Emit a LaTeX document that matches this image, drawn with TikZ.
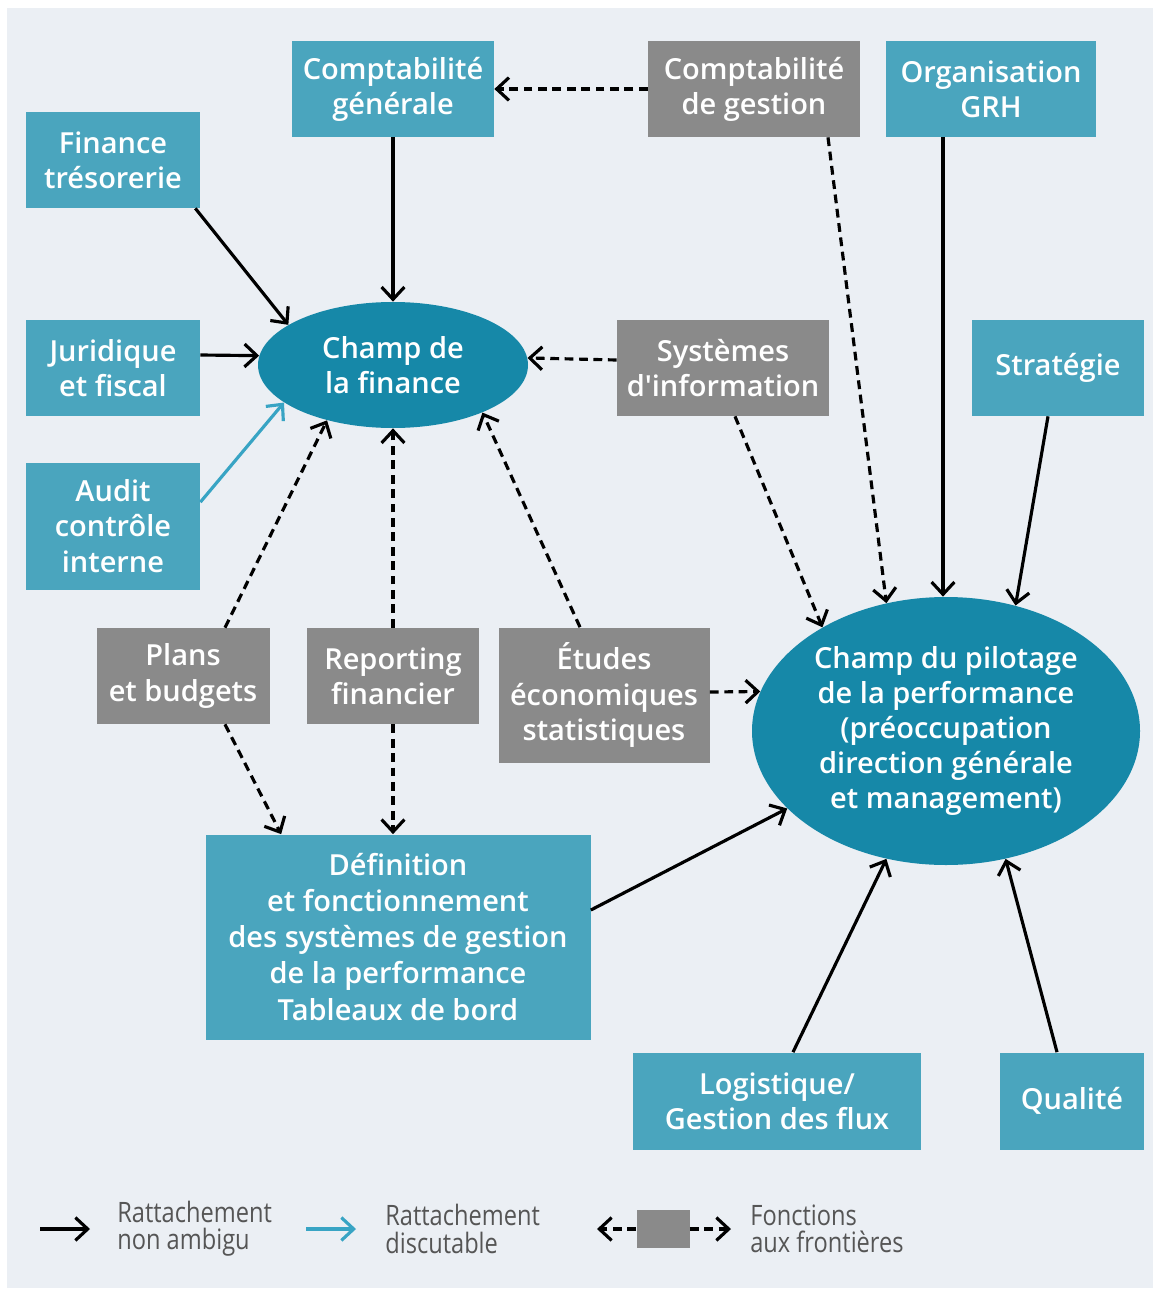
\documentclass[tikz,border=0pt]{standalone}
\usepackage{fontspec}
\usetikzlibrary{arrows.meta,shapes.geometric,calc}
\setmainfont{Open Sans}
\IfFontExistsTF{Open Sans SemiBold}
  {\newfontfamily\boxfont{Open Sans SemiBold}}
  {\IfFontExistsTF{Open Sans Semibold}
    {\newfontfamily\boxfont{Open Sans Semibold}}
    {\newfontfamily\boxfont{Open Sans}[FakeBold=1.4]}}
\newfontfamily\legfont{Open Sans}[FakeStretch=0.84]

\definecolor{bgcol}{HTML}{EBEFF4}
\definecolor{tealbox}{HTML}{4AA5BE}
\definecolor{tealell}{HTML}{1688A8}
\definecolor{graybox}{HTML}{8A8A8A}
\definecolor{tealarrow}{HTML}{38A4C4}
\definecolor{legtext}{HTML}{555555}

\tikzset{
  sz/.style 2 args={minimum width=#1*0.02cm, minimum height=#2*0.02cm},
  basebox/.style={rectangle, inner sep=0pt, align=center, text=white,
    font=\boxfont\fontsize{16.5}{20}\selectfont},
  tealnode/.style={basebox, fill=tealbox},
  graynode/.style={basebox, fill=graybox},
  fieldnode/.style={ellipse, inner sep=0pt, align=center, text=white, fill=tealell,
    font=\boxfont\fontsize{16.5}{20}\selectfont},
  tip/.style={-{Straight Barb[length=7pt,width=13pt,line width=1.8pt]}},
  link/.style={tip, line width=1.8pt, black},
  fuzzylink/.style={tip, line width=1.8pt, tealarrow},
  borderlink/.style={tip, line width=1.8pt, black, dash pattern=on 5pt off 3.2pt},
  legendtext/.style={anchor=west, align=left, text=legtext, inner sep=0pt,
    font=\legfont\fontsize{16}{15.5}\selectfont}
}

\begin{document}
\begin{tikzpicture}[x=0.02cm, y=-0.02cm]
% page and panel
\fill[white] (0,0) rectangle (1156,1291);
\fill[bgcol] (7,8) rectangle (1153,1288);
\useasboundingbox (0,0) rectangle (1156,1291);

% top row
\node[tealnode, sz={202}{96}] (cgen)  at (393,89)  {Comptabilité\\générale};
\node[graynode, sz={212}{96}] (cgest) at (754,89)  {Comptabilité\\de gestion};
\node[tealnode, sz={210}{96}] (org)   at (991,89)  {Organisation\\GRH};

% left column
\node[tealnode, sz={174}{96}]  (fintre) at (113,160) {Finance\\trésorerie};
\node[tealnode, sz={174}{96}]  (jur)    at (113,368) {Juridique\\et fiscal};
\node[tealnode, sz={174}{127}] (audit)  at (113,526) {Audit\\contrôle\\interne};

% finance field
\node[fieldnode, sz={270}{126}] (finance) at (393,365) {Champ de\\la finance};

\node[graynode, sz={212}{96}] (sys)   at (723,368) {Systèmes\\d'information};
\node[tealnode, sz={172}{96}] (strat) at (1058,368) {Stratégie};

% middle row
\node[graynode, sz={173}{96}]  (plans)  at (183,676) {Plans\\et budgets};
\node[graynode, sz={172}{96}]  (rep)    at (393,676) {Reporting\\financier};
\node[graynode, sz={211}{135}] (etudes) at (604,695) {Études\\économiques\\statistiques};

% performance field
\node[fieldnode, sz={388}{268}] (pil) at (946,731)
  {Champ du pilotage\\de la performance\\(préoccupation\\direction générale\\et management)};

% bottom
\node[tealnode, sz={385}{205}, font=\boxfont\fontsize{16.5}{20.5}\selectfont] (defn) at (398,937)
  {Définition\\et fonctionnement\\des systèmes de gestion\\de la performance\\Tableaux de bord};
\node[tealnode, sz={288}{97}] (logist) at (777,1101) {Logistique/\\Gestion des flux};
\node[tealnode, sz={144}{97}] (qual)   at (1072,1101) {Qualité};

% links into the finance field
\draw[borderlink] (cgest.west) -- (cgen.east);
\draw[link] (cgen.south) -- (finance.north);
\draw[link] ($(fintre.south east)+(-5,0)$) -- (finance.159);
\draw[link] ($(jur.east)+(0,-13)$) -- (finance.176);
\draw[fuzzylink] ($(audit.north east)+(0,40)$) -- (finance.199);
\draw[borderlink] ($(sys.west)+(0,-8)$) -- (finance.3);
\draw[borderlink] ($(plans.north)+(42,0)$) -- (finance.220);
\draw[borderlink] (rep.north) -- (finance.south);
\draw[borderlink] ($(etudes.north)+(-24,0)$) -- (finance.332);

% links into the definition box
\draw[borderlink] ($(plans.south)+(42,0)$) -- ($(defn.north west)+(76,0)$);
\draw[borderlink] (rep.south) -- (rep.south |- defn.north);

% links into the performance field
\draw[borderlink] ($(etudes.east)+(0,-3)$) -- (pil.168);
\draw[borderlink] ($(cgest.south)+(74,0)$) -- (pil.115);
\draw[link] ($(org.south)+(-48,0)$) -- ($(pil.north)+(-3,0)$);
\draw[link] ($(strat.south)+(-10,0)$) -- (pil.61);
\draw[borderlink] ($(sys.south)+(12,0)$) -- (pil.140);
\draw[link] ($(defn.east)+(0,-27)$) -- (pil.206);
\draw[link] ($(logist.north)+(16,0)$) -- (pil.245);
\draw[link] ($(qual.north)+(-15,0)$) -- (pil.295);

% legend
\coordinate (l1a) at (40,1229);
\coordinate (l1b) at (90,1229);
\draw[link] (l1a) -- (l1b);
\node[legendtext] (l1t) at (117,1229) {Rattachement\\non ambigu};
\coordinate (l2a) at (306,1229);
\coordinate (l2b) at (356,1229);
\draw[fuzzylink] (l2a) -- (l2b);
\node[legendtext] (l2t) at (385,1229) {Rattachement\\discutable};
\node[graynode, sz={53}{38}] (legbox) at (663,1229) {};
\coordinate (l3a) at (597,1229);
\coordinate (l3b) at (731,1229);
\draw[borderlink] (legbox.west) -- (l3a);
\draw[borderlink] (legbox.east) -- (l3b);
\node[legendtext] (l3t) at (750,1229) {Fonctions\\aux frontières};
\end{tikzpicture}
\end{document}
